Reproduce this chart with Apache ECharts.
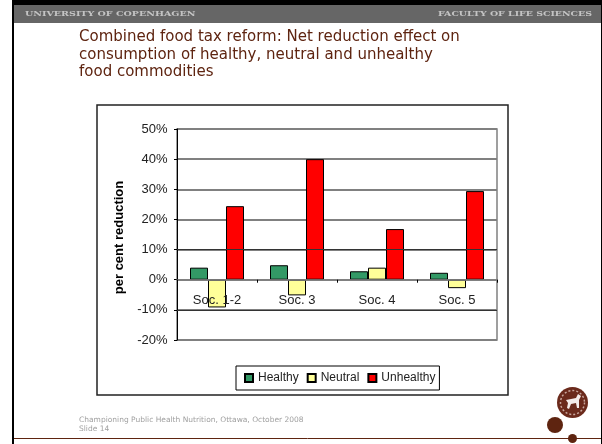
<!DOCTYPE html>
<html><head><meta charset="utf-8">
<style>html,body{margin:0;padding:0;background:#fff}#c{width:602px;height:444px}</style>
<script src="https://cdn.jsdelivr.net/npm/echarts@6/dist/echarts.min.js"></script>
</head><body><div id="c"></div>
<script>
var categories = ['Soc. 1-2', 'Soc. 3', 'Soc. 4', 'Soc. 5'];
var healthy = [4.0, 4.8, 2.8, 2.3];
var neutral = [-9.2, -5.2, 4.0, -2.8];
var unhealthy = [24.4, 40.0, 16.8, 29.4];
var seriesNames = ['Healthy', 'Neutral', 'Unhealthy'];
var darkLines = [10, -10];
var titleLines = ['Combined food tax reform: Net reduction effect on', 'consumption of healthy, neutral and unhealthy', 'food commodities'];
var footerLines = ['Championing Public Health Nutrition, Ottawa, October 2008', 'Slide 14'];

var sans = '"Liberation Sans", Arial, sans-serif';
var brown = '#5e2410';
function bar(name, data, color) {
  return { name: name, type: 'bar', data: data, z: 3, barGap: 0, barCategoryGap: '32.5%',
    itemStyle: { color: color, borderColor: '#000', borderWidth: 1 } };
}
var g = [
  { type: 'rect', z: -5, shape: { x: 12, y: 0, width: 590, height: 444 }, style: { fill: '#000' } },
  { type: 'rect', z: -4, shape: { x: 14, y: 5, width: 587, height: 439 }, style: { fill: '#fff' } },
  { type: 'rect', z: -3, shape: { x: 14, y: 5, width: 587, height: 18 }, style: { fill: '#666' } },
  { type: 'text', z: -2, x: 25, y: 14, scaleX: 1.19, style: { x: 0, y: 0, text: 'UNIVERSITY OF COPENHAGEN', fill: '#c4c4c4', font: 'bold 8px "DejaVu Serif", serif', verticalAlign: 'middle' } },
  { type: 'text', z: -2, x: 592, y: 14, scaleX: 1.175, style: { x: 0, y: 0, text: 'FACULTY OF LIFE SCIENCES', fill: '#c4c4c4', font: 'bold 8px "DejaVu Serif", serif', align: 'right', verticalAlign: 'middle' } },
  { type: 'rect', z: -2, shape: { x: 97, y: 105, width: 411, height: 290 }, style: { fill: '#fff', stroke: '#222', lineWidth: 1.5 } },
  { type: 'line', z: -2, shape: { x1: 14, y1: 438.5, x2: 601, y2: 438.5 }, style: { stroke: brown, lineWidth: 1 } },
  { type: 'circle', z: -2, shape: { cx: 572.5, cy: 402.5, r: 15.5 }, style: { fill: '#6b2a1c' } },
  { type: 'circle', z: -2, shape: { cx: 572.5, cy: 402.5, r: 12 }, style: { fill: 'none', stroke: '#c9a79e', lineWidth: 1.5, lineDash: [2, 2] } },
  { type: 'polygon', z: -2, shape: { points: [[566,400],[571,399],[576,398],[578,394],[581,396],[579,400],[579,408],[577,408],[576,403],[571,404],[569,409],[567,408],[568,403]] }, style: { fill: '#f4ecea' } },
  { type: 'circle', z: -2, shape: { cx: 555, cy: 425, r: 8 }, style: { fill: brown } },
  { type: 'circle', z: -2, shape: { cx: 572.5, cy: 438.5, r: 4.5 }, style: { fill: brown } }
];
titleLines.forEach(function (t, i) {
  g.push({ type: 'text', z: -2, style: { x: 79, y: [37, 55, 72][i], text: t, fill: brown, font: '15px "DejaVu Sans", sans-serif', verticalAlign: 'middle' } });
});
footerLines.forEach(function (t, i) {
  g.push({ type: 'text', z: -2, style: { x: 79, y: [420, 429][i], text: t, fill: '#a0a0a0', font: '7.5px "DejaVu Sans", sans-serif', verticalAlign: 'middle' } });
});

var chart = echarts.init(document.getElementById('c'), null, { renderer: 'canvas' });
chart.setOption({
  animation: false,
  backgroundColor: '#fff',
  graphic: g,
  grid: { left: 177, top: 129, width: 320, height: 211, show: true, borderColor: '#808080', borderWidth: 1.5, backgroundColor: 'transparent' },
  legend: {
    left: 236, top: 366, data: seriesNames, itemWidth: 8, itemHeight: 8, itemGap: 8, padding: [6, 4, 6, 8],
    backgroundColor: '#fff', borderColor: '#000', borderWidth: 1, icon: 'rect',
    textStyle: { fontFamily: sans, fontSize: 12, color: '#222' }
  },
  xAxis: {
    type: 'category', data: categories, z: 5,
    axisLine: { onZero: true, lineStyle: { color: '#808080', width: 1.5 } },
    axisTick: { show: true, length: 3, lineStyle: { color: '#000' } },
    axisLabel: { fontFamily: sans, fontSize: 13, color: '#222', margin: -46, interval: 0 }
  },
  yAxis: {
    type: 'value', min: -20, max: 50, interval: 10,
    name: 'per cent reduction', nameLocation: 'middle', nameGap: 48,
    nameTextStyle: { fontFamily: sans, fontSize: 13, fontWeight: 'bold', color: '#000', padding: [0, 6, 0, 0] },
    axisLine: { show: true, onZero: false, lineStyle: { color: '#000' } },
    axisTick: { show: true, length: 3, lineStyle: { color: '#000' } },
    axisLabel: { fontFamily: sans, fontSize: 13, color: '#222', margin: 9.5,
      formatter: function (v) { return v + '%'; } },
    splitLine: { show: true, lineStyle: { color: '#808080', width: 2 } }
  },
  series: [
    bar(seriesNames[0], healthy, '#339966'),
    bar(seriesNames[1], neutral, '#FFFF99'),
    bar(seriesNames[2], unhealthy, '#FF0000'),
    { type: 'line', data: [], z: 1, silent: true,
      markLine: { silent: true, symbol: 'none', label: { show: false }, lineStyle: { color: '#333', type: 'solid', width: 1 },
        data: darkLines.map(function (v) { return { yAxis: v }; }) } }
  ]
});
</script></body></html>
